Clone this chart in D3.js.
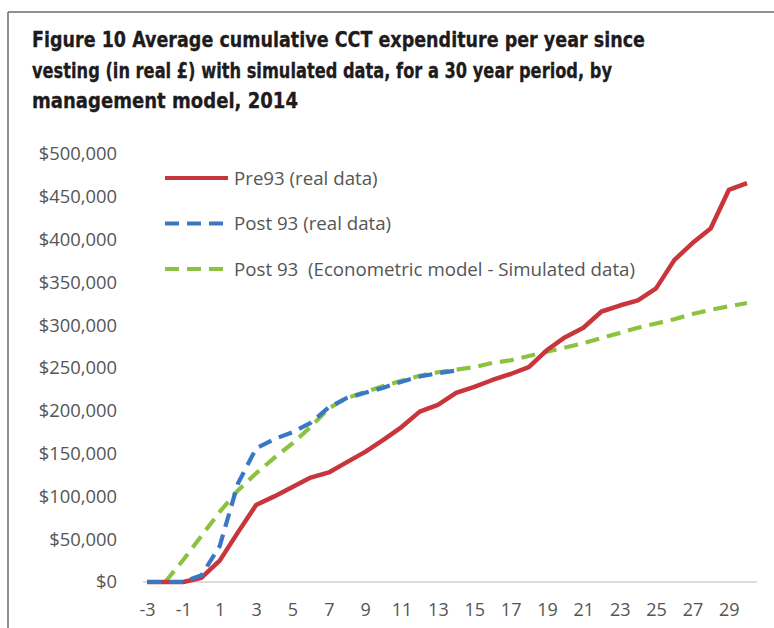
<!DOCTYPE html>
<html>
<head>
<meta charset="utf-8">
<script src="https://cdn.jsdelivr.net/npm/d3@7"></script>
<style>
  body { margin: 0; background: #fff; }
  svg { display: block; }
</style>
</head>
<body>
<svg id="chart" width="774" height="628"></svg>
<script>
// years since vesting
var years = d3.range(-3, 31);

// Pre93 (real data)
var pre93 = [0, 0, 0, 5000, 25000, 58000, 90000, 100000, 111000, 122000, 128000, 140000, 152000, 166000,
             181000, 199000, 207000, 221000, 228000, 236000, 243000, 251000, 271000, 286000, 297000, 316000,
             323000, 329000, 343000, 376000, 396000, 413000, 458000, 466000];

// Post 93 (real data) - stops at year 14
var post93 = [0, 0, 0, 8000, 42000, 115000, 156000, 167000, 175000, 186000, 204000, 215000, 221000, 227000,
              234000, 240000, 244000, 247000];

// Post 93 econometric model (simulated), starts at year -2
var post93Sim = [null, 0, 26000, 54000, 82000, 107000, 127000, 145000, 162000, 181000, 203000, 215000, 222000,
                 229000, 235000, 241000, 245000, 248000, 251000, 256000, 259000, 264000, 269000, 274000, 279000,
                 285000, 291000, 297000, 302000, 307000, 313000, 318000, 322000, 326000];

var yTicks = d3.range(0, 500001, 50000);
var xTicks = years.filter(function (d) { return d % 2 !== 0; });

var titleLines = [
    "Figure 10 Average cumulative CCT expenditure per year since",
    "vesting (in real \u00a3) with simulated data, for a 30 year period, by",
    "management model, 2014"
];

var seriesNames = ["Pre93 (real data)", "Post 93 (real data)", "Post 93  (Econometric model - Simulated data)"];
var seriesColors = ["#c8353b", "#3a78c6", "#8cc23f"];

var svg = d3.select('#chart');

// frame
svg.append('line').attr('x1', 8).attr('x2', 774).attr('y1', 12).attr('y2', 12)
    .style('stroke', '#6b6b6b').style('stroke-width', 1.5);
svg.append('line').attr('x1', 8).attr('x2', 8).attr('y1', 12).attr('y2', 628)
    .style('stroke', '#6b6b6b').style('stroke-width', 1.5);

// title
var titleWidths = [613, 580, 266];
svg.selectAll('.title')
    .data(titleLines)
    .enter()
    .append('text')
    .attr('class', 'title')
    .attr('x', 32)
    .attr('y', function (d, i) { return 47 + i * 30.5; })
    .attr('textLength', function (d, i) { return titleWidths[i]; })
    .attr('lengthAdjust', 'spacingAndGlyphs')
    .style('font-family', '"Liberation Sans Narrow", "DejaVu Sans Condensed", "Roboto", sans-serif')
    .style('font-weight', 'bold')
    .style('font-size', '22px')
    .style('fill', '#1e1b1c')
    .style('stroke', '#1e1b1c')
    .style('stroke-width', 0.3)
    .text(function (d) { return d; });

var xScale = d3.scalePoint().domain(years).range([147, 747]);
var yScale = d3.scaleLinear().domain([0, 500000]).range([582, 154]);

var labelFont = '"Open Sans", sans-serif';

// y axis
var yAxis = d3.axisLeft(yScale).tickValues(yTicks).tickFormat(d3.format('$,')).tickSize(0).tickPadding(10);
var gy = svg.append('g').attr('transform', 'translate(127,0)').call(yAxis);
gy.select('.domain').remove();
gy.selectAll('text').style('font-family', labelFont).style('font-size', '18.4px').style('fill', '#555');

// x axis
var xAxis = d3.axisBottom(xScale).tickValues(xTicks).tickSize(0).tickPadding(21);
var gx = svg.append('g').attr('transform', 'translate(0,582)').call(xAxis);
gx.select('.domain').remove();
gx.selectAll('text').style('font-family', labelFont).style('font-size', '18px').style('fill', '#555');

svg.append('line').attr('x1', 143).attr('x2', 757).attr('y1', yScale(0)).attr('y2', yScale(0))
    .style('stroke', '#d4cfcf').style('stroke-width', 1.5);

var line = d3.line()
    .defined(function (d) { return d[1] !== null && d[1] !== undefined; })
    .x(function (d) { return xScale(d[0]); })
    .y(function (d) { return yScale(d[1]); });

function pairs(values) {
    return years.map(function (yr, i) { return [yr, i < values.length ? values[i] : null]; });
}

var dashes = [null, '14,8', '14,8'];
var seriesData = [pre93, post93, post93Sim];
var drawOrder = [2, 0, 1];

drawOrder.forEach(function (k) {
    svg.append('path')
        .datum(pairs(seriesData[k]))
        .attr('d', line)
        .style('fill', 'none')
        .style('stroke', seriesColors[k])
        .style('stroke-width', k === 0 ? 4.5 : 4.2)
        .style('stroke-linejoin', 'round')
        .style('stroke-dasharray', dashes[k]);
});

// legend
var legend = svg.selectAll('.legend')
    .data(seriesNames)
    .enter()
    .append('g')
    .attr('class', 'legend')
    .attr('transform', function (d, i) { return 'translate(165,' + (178 + i * 45.5) + ')'; });

legend.append('line')
    .attr('x1', 0).attr('x2', 63).attr('y1', 0).attr('y2', 0)
    .style('stroke', function (d, i) { return seriesColors[i]; })
    .style('stroke-width', 4.2)
    .style('stroke-dasharray', function (d, i) { return dashes[i]; });

legend.append('text')
    .attr('x', 69)
    .attr('y', 0)
    .attr('dy', '0.35em')
    .style('font-family', labelFont)
    .style('font-size', '18.7px')
    .style('fill', '#555')
    .style('white-space', 'pre')
    .text(function (d) { return d; });
</script>
</body>
</html>
